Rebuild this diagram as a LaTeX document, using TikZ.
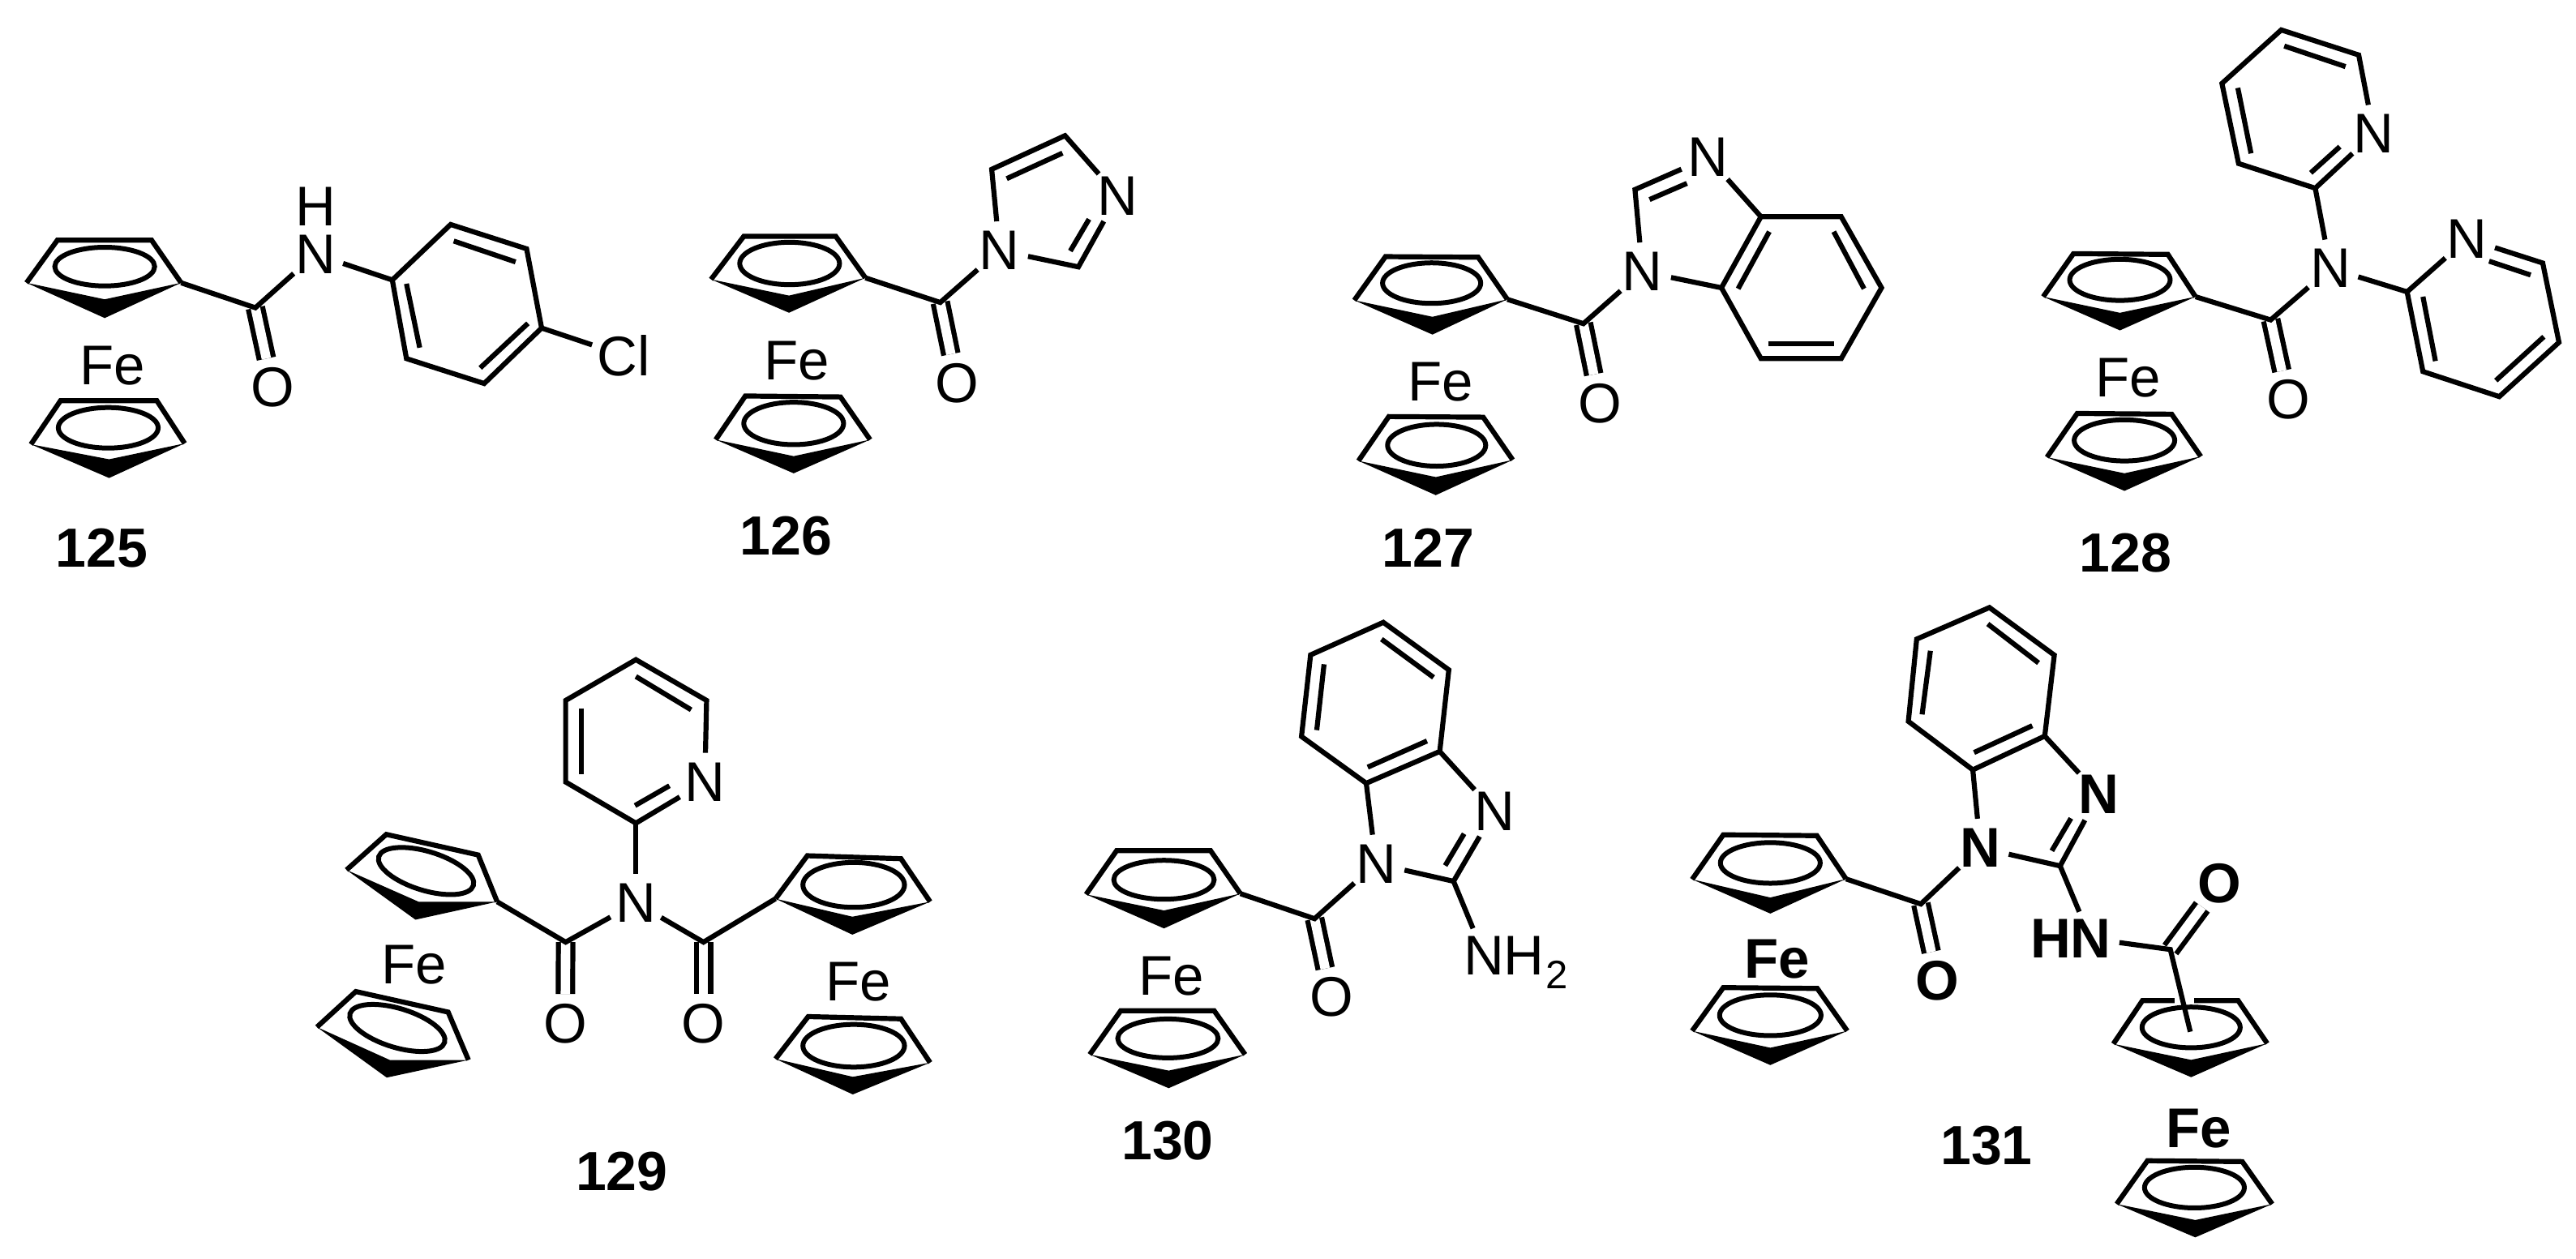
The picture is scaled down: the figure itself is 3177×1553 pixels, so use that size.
\documentclass[tikz,border=0pt]{standalone}
\usepackage{fontspec}
\setmainfont{Liberation Sans}
\newcommand\atomfont{\fontsize{34.5}{40}\selectfont}
\newcommand\boldatom{\fontsize{34.5}{40}\selectfont\bfseries}
\newcommand\labfont{\fontsize{34}{40}\selectfont\bfseries}
\tikzset{
  zm/.style n args={4}{shift={(#1,#2)},x=0.5pt*#3/1560,y=-0.5pt*#4/1560},
  bond/.style={line width=3.1pt,line cap=butt,line join=miter,miter limit=3,black},
  cobond/.style={line width=3.1pt,double=white,double distance=5.8pt,black},
  wedge/.style={fill=black},
  cpring/.style={line width=3pt,black},
  atom/.style={circle,inner sep=0pt,outer sep=0pt,minimum size=36pt,font=\atomfont},
  batom/.style={atom,font=\boldatom},
  cl/.style={atom,minimum size=41pt},
  plain/.style={inner sep=0pt,outer sep=0pt,font=\atomfont},
  bplain/.style={inner sep=0pt,outer sep=0pt,font=\boldatom},
  sub/.style={inner sep=0pt,outer sep=0pt,font=\fontsize{24.5}{28}\selectfont},
  lab/.style={inner sep=0pt,outer sep=0pt,font=\labfont},
}
% name, UL, UR, R, inner, tip, L
\newcommand\cpframe[7]{%
  \coordinate (#1) at #4;
  \coordinate (#1l) at #7;
  \fill[wedge] #7 -- #5 -- #4 -- #6 -- cycle;
  \draw[bond] #7 -- #2 -- #3 -- #4;
}
% name, UL, UR, R, inner, tip, L, centre, radii
\newcommand\cp[9]{%
  \cpframe{#1}{#2}{#3}{#4}{#5}{#6}{#7}
  \draw[cpring] #8 ellipse [#9];
}
\begin{document}
\begin{tikzpicture}[x=0.5pt,y=-0.5pt]
\useasboundingbox (0,0) rectangle (3177,1553);
\fill[white] (0,0) rectangle (3177,1553);

% ---------- 125
\begin{scope}[zm={0}{150}{850}{600}]
\cp{cpa}{(130,380)}{(343,380)}{(410,517)}{(237,570)}{(237,630)}{(60,517)}{(237,465)}{x radius=113,y radius=62}
\cp{cpb}{(137,895)}{(355,895)}{(418,1032)}{(247,1083)}{(247,1143)}{(70,1035)}{(245,982)}{x radius=113,y radius=65}
\node[plain] (fe125) at (255,782) {Fe};
\node[lab] (lab125) at (230,1368) {125};
\node[atom] (n125) at (714,425) {N};
\node[plain] (h125) at (714,273) {H};
\node[atom] (o125) at (617,852) {O};
\node[cl] (cl125) at (1412,750) {Cl};
\coordinate (c125) at (578,597);
\coordinate (r1) at (888,508); \coordinate (r2) at (1020,330); \coordinate (r3) at (1192,408);
\coordinate (r4) at (1226,662); \coordinate (r5) at (1096,840); \coordinate (r6) at (920,760);
\draw[cobond] (c125) -- (o125);
\draw[bond] (cpa) -- (c125) -- (n125);
\draw[bond] (n125) -- (r1);
\draw[bond] (r1) -- (r2) -- (r3) -- (r4) -- (r5) -- (r6) -- cycle;
\draw[bond] (r4) -- (cl125);
\draw[bond] (1027,383) -- (1167,450);
\draw[bond] (920,520) -- (950,725);
\draw[bond] (1087,790) -- (1195,647);
\end{scope}

% ---------- 126
\begin{scope}[zm={850}{130}{600}{600}]
\cp{cpa}{(175,420)}{(470,420)}{(565,553)}{(320,610)}{(320,665)}{(70,558)}{(322,507)}{x radius=160,y radius=68}
\cp{cpb}{(180,932)}{(485,935)}{(580,1072)}{(335,1125)}{(335,1180)}{(85,1072)}{(335,1020)}{x radius=160,y radius=68}
\node[plain] (fe126) at (345,820) {Fe};
\node[lab] (lab126) at (310,1380) {126};
\node[atom] (na126) at (995,465) {N};
\node[atom] (nb126) at (1375,290) {N};
\node[atom] (o126) at (858,890) {O};
\coordinate (c126) at (805,632);
\coordinate (r1) at (970,205); \coordinate (r2) at (1205,97); \coordinate (r3) at (1248,518);
\draw[cobond] (c126) -- (o126);
\draw[bond] (cpa) -- (c126) -- (na126);
\draw[bond] (na126) -- (r1) -- (r2) -- (nb126);
\draw[bond] (nb126) -- (r3) -- (na126);
\draw[bond] (1018,235) -- (1197,153);
\draw[bond] (1222,467) -- (1282,365);
\end{scope}

% ---------- 127
\begin{scope}[zm={1600}{130}{800}{600}]
\cp{cpa}{(212,485)}{(435,487)}{(505,622)}{(325,678)}{(325,735)}{(137,625)}{(323,570)}{x radius=118,y radius=65}
\cp{cpb}{(220,998)}{(447,1000)}{(518,1137)}{(333,1192)}{(333,1250)}{(147,1140)}{(335,1090)}{x radius=118,y radius=67}
\node[plain] (fe127) at (345,887) {Fe};
\node[lab] (lab127) at (315,1420) {127};
\node[atom] (na127) at (830,533) {N};
\node[atom] (nb127) at (988,167) {N};
\node[atom] (o127) at (727,955) {O};
\coordinate (c127) at (688,700);
\coordinate (ch) at (812,270);
\coordinate (r1) at (1115,357); \coordinate (r2) at (1308,357); \coordinate (r3) at (1405,585);
\coordinate (r4) at (1308,812); \coordinate (r5) at (1115,812); \coordinate (r6) at (1020,585);
\draw[cobond] (c127) -- (o127);
\draw[bond] (cpa) -- (c127) -- (na127);
\draw[bond] (na127) -- (ch) -- (nb127);
\draw[bond] (nb127) -- (r1);
\draw[bond] (na127) -- (r6);
\draw[bond] (r1) -- (r2) -- (r3) -- (r4) -- (r5) -- (r6) -- cycle;
\draw[bond] (847,302) -- (937,250);
\draw[bond] (1135,405) -- (1060,588);
\draw[bond] (1290,405) -- (1363,588);
\draw[bond] (1132,765) -- (1290,765);
\end{scope}

% ---------- 128
\begin{scope}[zm={2450}{0}{727}{720}]
\cp{cpa}{(230,678)}{(480,680)}{(553,793)}{(353,836)}{(353,883)}{(150,793)}{(353,748)}{x radius=133,y radius=55}
\cp{cpb}{(240,1105)}{(490,1107)}{(567,1220)}{(365,1265)}{(365,1312)}{(160,1222)}{(365,1177)}{x radius=133,y radius=55}
\node[plain] (fe128) at (375,1010) {Fe};
\node[lab] (lab128) at (368,1478) {128};
\node[atom] (n128) at (910,717) {N};
\node[atom] (na128) at (1025,357) {N};
\node[atom] (nb128) at (1272,638) {N};
\node[atom] (o128) at (798,1068) {O};
\coordinate (c128) at (752,855);
\coordinate (a2) at (870,503); \coordinate (a3) at (667,437); \coordinate (a4) at (623,223);
\coordinate (a5) at (780,80); \coordinate (a6) at (985,147);
\coordinate (b2) at (1113,780); \coordinate (b6) at (1472,703); \coordinate (b5) at (1515,915);
\coordinate (b4) at (1357,1060); \coordinate (b3) at (1155,993);
\draw[cobond] (c128) -- (o128);
\draw[bond] (cpa) -- (c128) -- (n128);
\draw[bond] (n128) -- (a2);
\draw[bond] (na128) -- (a2) -- (a3) -- (a4) -- (a5) -- (a6) -- (na128);
\draw[bond] (n128) -- (b2);
\draw[bond] (nb128) -- (b2) -- (b3) -- (b4) -- (b5) -- (b6) -- (nb128);
\draw[bond] (665,235) -- (700,410);
\draw[bond] (788,123) -- (950,178);
\draw[bond] (858,462) -- (935,392);
\draw[bond] (1330,698) -- (1440,735);
\draw[bond] (1155,793) -- (1188,965);
\draw[bond] (1348,1017) -- (1475,900);
\end{scope}

% ---------- 129
\begin{scope}[zm={350}{780}{850}{720}]
\cpframe{cpa}{(232,540)}{(440,595)}{(483,720)}{(305,720)}{(298,768)}{(142,635)}
\cpframe{cpb}{(163,960)}{(372,1015)}{(418,1143)}{(240,1143)}{(233,1190)}{(75,1055)}
\cp{cpc}{(1185,597)}{(1397,605)}{(1463,720)}{(1287,760)}{(1287,808)}{(1113,712)}{(1290,675)}{x radius=115,y radius=60}
\cp{cpd}{(1187,1027)}{(1397,1033)}{(1463,1150)}{(1288,1188)}{(1288,1235)}{(1113,1140)}{(1290,1105)}{x radius=115,y radius=57}
\node[plain] (fea129) at (295,888) {Fe};
\node[plain] (feb129) at (1300,935) {Fe};
\node[lab] (lab129) at (765,1440) {129};
\node[atom] (n129) at (797,723) {N};
\node[atom] (np129) at (953,400) {N};
\node[atom] (oa129) at (637,1045) {O};
\node[atom] (ob129) at (950,1045) {O};
\coordinate (ca129) at (638,828); \coordinate (cb129) at (950,828);
\coordinate (p2) at (797,510); \coordinate (p3) at (638,400); \coordinate (p4) at (638,182);
\coordinate (p5) at (797,73); \coordinate (p6) at (957,182);
\draw[cobond] (ca129) -- (oa129);
\draw[cobond] (cb129) -- (ob129);
\draw[bond] (cpa) -- (ca129) -- (n129);
\draw[bond] (n129) -- (cb129) -- (cpcl);
\draw[bond] (n129) -- (p2);
\draw[bond] (np129) -- (p2) -- (p3) -- (p4) -- (p5) -- (p6) -- (np129);
\draw[bond] (673,203) -- (673,380);
\draw[bond] (797,118) -- (922,207);
\draw[bond] (795,463) -- (873,410);
\end{scope}
\draw[cpring,rotate around={-17:(525.5,1074.4)}] (525.5,1074.4) ellipse [x radius=61,y radius=24];
\draw[cpring,rotate around={-17:(490,1268)}] (490,1268) ellipse [x radius=61,y radius=24];

% ---------- 130
\begin{scope}[zm={1300}{740}{700}{720}]
\cp{cpa}{(172,670)}{(430,670)}{(512,785)}{(302,830)}{(302,878)}{(88,787)}{(302,748)}{x radius=138,y radius=52}
\cp{cpb}{(183,1098)}{(440,1098)}{(525,1215)}{(315,1258)}{(315,1305)}{(98,1215)}{(313,1172)}{x radius=138,y radius=52}
\node[plain] (fe130) at (323,1005) {Fe};
\node[lab] (lab130) at (312,1445) {130};
\node[atom] (na130) at (885,705) {N};
\node[atom] (nb130) at (1210,565) {N};
\node[atom] (nc130) at (1182,950) {N};
\node[plain] (hc130) at (1292,950) {H};
\node[sub] (sc130) at (1381,1002) {2};
\node[atom] (o130) at (762,1062) {O};
\coordinate (c130) at (716,852);
\coordinate (g2) at (1098,752);
\coordinate (r1) at (858,490); \coordinate (r2) at (680,365); \coordinate (r3) at (705,147);
\coordinate (r4) at (905,60); \coordinate (r5) at (1085,187); \coordinate (r6) at (1060,405);
\draw[cobond] (c130) -- (o130);
\draw[bond] (cpa) -- (c130) -- (na130);
\draw[bond] (na130) -- (r1);
\draw[bond] (na130) -- (g2) -- (nb130);
\draw[bond] (nb130) -- (r6);
\draw[bond] (g2) -- (nc130);
\draw[bond] (r1) -- (r2) -- (r3) -- (r4) -- (r5) -- (r6) -- cycle;
\draw[bond] (722,348) -- (742,172);
\draw[bond] (900,105) -- (1043,207);
\draw[bond] (862,447) -- (1025,377);
\draw[bond] (1075,710) -- (1127,625);
\end{scope}

% ---------- 131
\begin{scope}[zm={2050}{720}{800}{833}]
\cp{cpa}{(147,580)}{(372,582)}{(442,682)}{(260,725)}{(260,762)}{(72,683)}{(260,645)}{x radius=120,y radius=47}
\cp{cpb}{(147,933)}{(373,935)}{(445,1033)}{(260,1072)}{(260,1112)}{(72,1033)}{(260,997)}{x radius=122,y radius=47}
\cpframe{cpc}{(1155,963)}{(1385,963)}{(1455,1062)}{(1272,1100)}{(1272,1140)}{(1085,1063)}
\draw[white,line width=4pt] (1232,963) -- (1280,963);
\draw[cpring] (1272,1025) ellipse [x radius=118,y radius=47];
\cp{cpd}{(1167,1333)}{(1395,1335)}{(1467,1433)}{(1282,1470)}{(1282,1510)}{(1093,1433)}{(1280,1395)}{x radius=120,y radius=47}
\node[bplain] (fea131) at (277,868) {Fe};
\node[bplain] (feb131) at (1290,1258) {Fe};
\node[lab] (lab131) at (780,1298) {131};
\node[batom] (na131) at (765,610) {N};
\node[batom] (nb131) at (1050,487) {N};
\node[batom] (nc131) at (1030,820) {N};
\node[bplain] (hc131) at (935,820) {H};
\node[batom] (oa131) at (662,917) {O};
\node[batom] (ob131) at (1340,692) {O};
\coordinate (ca131) at (622,740);
\coordinate (cb131) at (1222,845);
\coordinate (g2) at (957,652);
\coordinate (cpin) at (1270,1035);
\coordinate (r1) at (747,430); \coordinate (r2) at (592,318); \coordinate (r3) at (612,128);
\coordinate (r4) at (787,55); \coordinate (r5) at (943,165); \coordinate (r6) at (920,352);
\draw[cobond] (ca131) -- (oa131);
\draw[cobond] (cb131) -- (ob131);
\draw[bond] (cpa) -- (ca131) -- (na131);
\draw[bond] (na131) -- (r1);
\draw[bond] (na131) -- (g2) -- (nb131);
\draw[bond] (nb131) -- (r6);
\draw[bond] (g2) -- (nc131);
\draw[bond] (nc131) -- (cb131) -- (cpin);
\draw[bond] (r1) -- (r2) -- (r3) -- (r4) -- (r5) -- (r6) -- cycle;
\draw[bond] (625,302) -- (645,155);
\draw[bond] (783,93) -- (905,183);
\draw[bond] (750,390) -- (890,328);
\draw[bond] (937,617) -- (983,542);
\end{scope}
\end{tikzpicture}
\end{document}
